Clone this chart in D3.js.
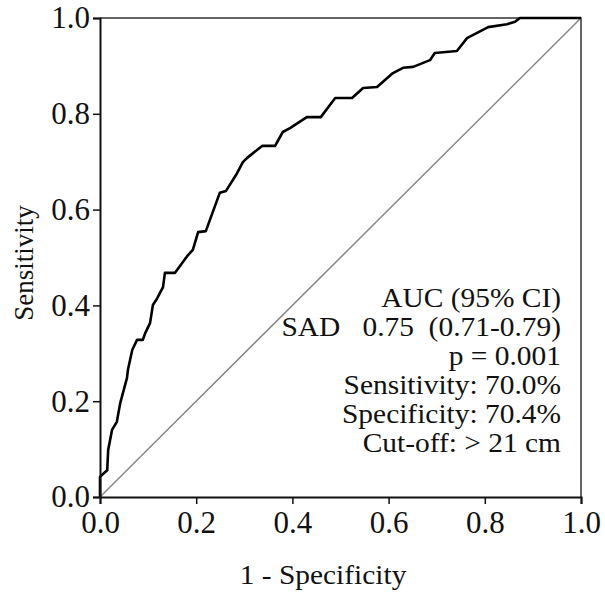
<!DOCTYPE html>
<html>
<head>
<meta charset="utf-8">
<script src="https://cdn.jsdelivr.net/npm/d3@7"></script>
<style>
  body { margin: 0; background: #fff; }
  svg { display: block; font-family: "Liberation Serif", "Times New Roman", serif; }
</style>
</head>
<body>
<svg id="chart" width="605" height="598"></svg>
<script>
// ROC curve for SAD (1 - specificity, sensitivity)
const fpr = [0, 0, 0.004, 0.015, 0.017, 0.025, 0.035, 0.042, 0.056, 0.058, 0.067, 0.077, 0.089,
  0.094, 0.104, 0.110, 0.119, 0.131, 0.135, 0.156, 0.183, 0.193, 0.204, 0.220, 0.249, 0.262,
  0.285, 0.297, 0.306, 0.337, 0.364, 0.380, 0.395, 0.430, 0.459, 0.489, 0.524, 0.547, 0.576,
  0.609, 0.630, 0.651, 0.686, 0.696, 0.742, 0.763, 0.784, 0.807, 0.846, 0.863, 0.873, 1];
const tpr = [0, 0.042, 0.046, 0.056, 0.098, 0.140, 0.157, 0.196, 0.248, 0.265, 0.307, 0.328, 0.328,
  0.342, 0.363, 0.401, 0.415, 0.438, 0.468, 0.468, 0.505, 0.516, 0.553, 0.555, 0.635, 0.639,
  0.676, 0.699, 0.708, 0.733, 0.733, 0.762, 0.770, 0.793, 0.793, 0.833, 0.833, 0.854, 0.856,
  0.885, 0.896, 0.898, 0.912, 0.927, 0.931, 0.958, 0.969, 0.981, 0.987, 0.992, 1.0, 1.0];
const ticks = [0, 0.2, 0.4, 0.6, 0.8, 1.0];
const legendLines = ["AUC (95% CI)", "SAD   0.75  (0.71-0.79)", "p = 0.001",
  "Sensitivity: 70.0%", "Specificity: 70.4%", "Cut-off: > 21 cm"];

const svg = d3.select("#chart");
const x = d3.scaleLinear().domain([0, 1]).range([100, 581]);
const y = d3.scaleLinear().domain([0, 1]).range([497, 18]);
const stretch = 1.09; // the source picture is a bit wider than tall

// top and right border
svg.append("path")
  .attr("d", `M${x(0)},${y(1)}H${x(1)}V${y(0)}`)
  .attr("fill", "none")
  .attr("stroke", "#333")
  .attr("stroke-width", 1.5);

// reference diagonal
svg.append("line")
  .attr("x1", x(0)).attr("y1", y(0))
  .attr("x2", x(1)).attr("y2", y(1))
  .attr("stroke", "#888")
  .attr("stroke-width", 1.5);

const pts = fpr.map((d, i) => [d, tpr[i]]);
svg.append("path")
  .datum(pts)
  .attr("fill", "none")
  .attr("stroke", "#000")
  .attr("stroke-width", 2.6)
  .attr("stroke-linejoin", "round")
  .attr("d", d3.line().x((d) => x(d[0])).y((d) => y(d[1])));

const fmt = d3.format(".1f");

const xAxis = svg.append("g")
  .attr("transform", `translate(0,${y(0)})`)
  .call(d3.axisBottom(x).tickValues(ticks).tickFormat(fmt).tickSize(7).tickPadding(4));
const yAxis = svg.append("g")
  .attr("transform", `translate(${x(0)},0)`)
  .call(d3.axisLeft(y).tickValues(ticks).tickFormat(fmt).tickSize(7).tickPadding(3));

[xAxis, yAxis].forEach((g) => {
  g.select(".domain").attr("stroke", "#111").attr("stroke-width", 2);
  g.selectAll(".tick line").attr("stroke", "#111").attr("stroke-width", 1.5);
  g.selectAll(".tick text")
    .attr("fill", "#111")
    .style("font-family", "Liberation Serif")
    .style("font-size", "31px");
});
xAxis.selectAll(".tick text").attr("dy", "0.8em");

// axis titles
svg.append("text")
  .attr("transform", `translate(323,584) scale(${stretch},1)`)
  .attr("text-anchor", "middle")
  .attr("font-size", 27)
  .attr("fill", "#111")
  .text("1 - Specificity");
svg.append("text")
  .attr("transform", "translate(33,263) rotate(-90)")
  .attr("text-anchor", "middle")
  .attr("font-size", 27)
  .attr("fill", "#111")
  .text("Sensitivity");

// statistics block
svg.append("g")
  .selectAll("text")
  .data(legendLines)
  .enter()
  .append("text")
  .attr("transform", (d, i) => `translate(561,${307 + i * 29}) scale(${stretch},1)`)
  .attr("text-anchor", "end")
  .attr("font-size", 27)
  .attr("fill", "#111")
  .style("white-space", "pre")
  .text((d) => d);
</script>
</body>
</html>
